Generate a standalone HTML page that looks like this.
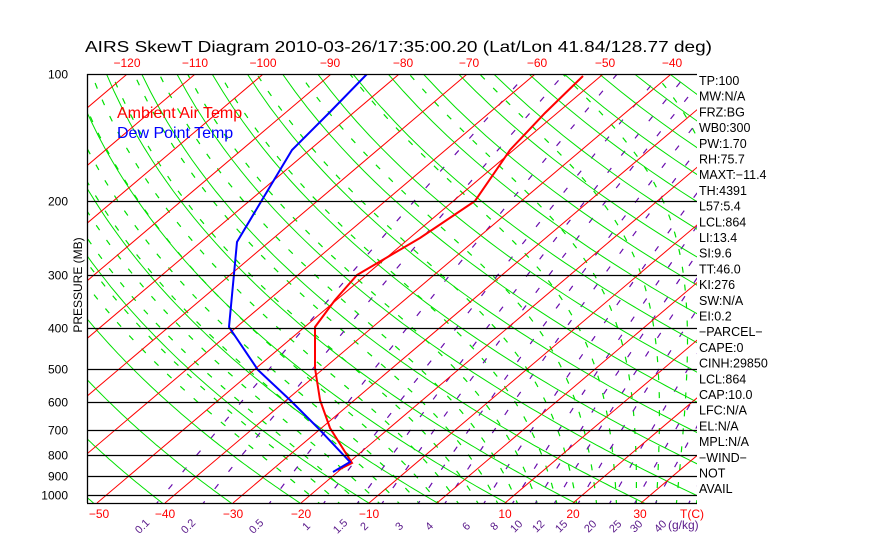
<!DOCTYPE html>
<html><head><meta charset="utf-8">
<style>
html,body{margin:0;padding:0;background:#fff;}
svg{display:block;font-family:"Liberation Sans",sans-serif;}
</style></head>
<body>
<svg id="s" width="870" height="560" xmlns="http://www.w3.org/2000/svg">
<defs><clipPath id="c"><rect x="87" y="74" width="610" height="429"/></clipPath></defs>
<rect width="870" height="560" fill="#fff"/>
<g id="grid" clip-path="url(#c)"></g>
<g id="prof" clip-path="url(#c)"></g>
<g id="txt"></g>
</svg>
<script>
var NS="http://www.w3.org/2000/svg";
function el(p,n,a,t){var e=document.createElementNS(NS,n);for(var k in a)e.setAttribute(k,a[k]);if(t!=null)e.textContent=t;p.appendChild(e);return e;}
var S=document.getElementById('s'),G=document.getElementById('grid'),P=document.getElementById('prof'),T=document.getElementById('txt');
function Y(p){return 74+183*Math.log(p/100);}
function X(t,y){return 437+6.8*t+(503-y)*1.18;}
function pl(g,pts,a){var d=pts.map(function(q,i){return (i?'L':'M')+q[0].toFixed(1)+' '+q[1].toFixed(1);}).join('');a.d=d;a.fill='none';el(g,'path',a);}
function es(tc){return 6.112*Math.exp(17.67*tc/(tc+243.5));}
function tdew(e){var l=Math.log(e/6.112);return 243.5*l/(17.67-l);}
function ma(tk,p){var tc=tk-273.15,e=es(tc),rs=0.622*e/(p-e),Rd=287,cp=1004,L=2.5e6;return (Rd*tk+L*rs)/(p*(cp+L*L*rs*0.622/(Rd*tk*tk)));}
// moist adiabats
for(var t0=-20;t0<=44;t0+=3){var tk=t0+273.15,pts=[];
 for(var pp=1000;pp<1060;pp+=2){tk+=2*ma(tk,pp);}
 for(var p=1060;p>=100;p-=2){var y=Y(p);if(p%10==0)pts.push([X(tk-273.15,y),y]);tk-=2*ma(tk,p);}
 pl(G,pts,{stroke:'#00e000','stroke-width':1.2,'stroke-dasharray':'6,12'});}
// mixing ratio
var ws=[0.1,0.2,0.5,1,1.5,2,3,4,6,8,10,12,15,20,25,30,40,50,60];
ws.forEach(function(w){var pts=[];for(var p=1060;p>=95;p-=10){var e=w*p/(622+w);var y=Y(p);pts.push([X(tdew(e),y),y]);}pl(G,pts,{stroke:'#6a0dad','stroke-width':1.2,'stroke-dasharray':'6,16'});});
// dry adiabats
for(var th=200;th<=520;th+=10){var pts=[];for(var p=1060;p>=95;p-=10){var tk=th*Math.pow(p/1000,0.286);var y=Y(p);pts.push([X(tk-273.15,y),y]);}pl(G,pts,{stroke:'#00e000','stroke-width':1});}
// isotherms
for(var t=-170;t<=50;t+=10){pl(G,[[X(t,503),503],[X(t,74),74]],{stroke:'#ff0000','stroke-width':1});}
// pressure lines
[100,200,300,400,500,600,700,800,900,1000].forEach(function(p){var y=Math.round(Y(p))+0.5;el(S,'line',{x1:87,x2:697,y1:y,y2:y,stroke:'#000','stroke-width':1.3});
 el(T,'text',{x:68,y:y+4,'font-size':12,'text-anchor':'end',fill:'#000'},p);});
el(S,'line',{x1:87.5,x2:87.5,y1:74,y2:503,stroke:'#000','stroke-width':1.3});
el(S,'line',{x1:87,x2:697,y1:503.5,y2:503.5,stroke:'#000','stroke-width':1.3});
// profiles
var tp=[[583,76],[545,113],[510,150],[475,201],[420,238],[357,275],[335,300],[315,327],[315,368],[320,400],[330,428],[352,463],[338,470]];
var dp=[[367,74],[330,112],[292,150],[262,200],[237,242],[229,327],[258,370],[290,400],[318,428],[350,462],[333,472]];
pl(P,tp,{stroke:'#ff0000','stroke-width':2});
pl(P,dp,{stroke:'#0000ff','stroke-width':2});
// text
el(T,'text',{x:85,y:52,'font-size':16,fill:'#000',textLength:627,lengthAdjust:'spacingAndGlyphs'},'AIRS SkewT Diagram 2010-03-26/17:35:00.20 (Lat/Lon 41.84/128.77 deg)');
[[-120,127],[-110,195],[-100,263],[-90,330],[-80,403],[-70,469],[-60,537],[-50,605],[-40,672]].forEach(function(a){el(T,'text',{x:a[1],y:67,'font-size':12,fill:'#ff0000','text-anchor':'middle'},'\u2212'+(-a[0]));});
[[-50,99],[-40,165],[-30,233],[-20,301],[-10,369],[10,505],[20,573],[30,640]].forEach(function(a){el(T,'text',{x:a[1],y:518,'font-size':12,fill:'#ff0000','text-anchor':'middle'},a[0]<0?'\u2212'+(-a[0]):a[0]);});
el(T,'text',{x:680,y:518,'font-size':12,fill:'#ff0000'},'T(C)');
el(T,'text',{x:668,y:529,'font-size':12,fill:'#5a1a8a'},'(g/kg)');
[['0.1',142],['0.2',188],['0.5',256],['1',306],['1.5',340],['2',364],['3',399],['4',429],['6',466],['8',494],['10',516],['12',538],['15',561],['20',590],['25',615],['30',636],['40',660]].forEach(function(a){el(T,'text',{x:a[1],y:530,'font-size':11,fill:'#5a1a8a','text-anchor':'middle',transform:'rotate(-45 '+a[1]+' 526)'},a[0]);});
el(T,'text',{x:117,y:118,'font-size':16,fill:'#ff0000'},'Ambient Air Temp');
el(T,'text',{x:117,y:138,'font-size':16,fill:'#0000ff'},'Dew Point Temp');
el(T,'text',{x:0,y:0,'font-size':12,fill:'#000','text-anchor':'middle',transform:'translate(82 285) rotate(-90)'},'PRESSURE (MB)');
var R=['TP:100','MW:N/A','FRZ:BG','WB0:300','PW:1.70','RH:75.7','MAXT:\u221211.4','TH:4391','L57:5.4','LCL:864','LI:13.4','SI:9.6','TT:46.0','KI:276','SW:N/A','EI:0.2','\u2212PARCEL\u2212','CAPE:0','CINH:29850','LCL:864','CAP:10.0','LFC:N/A','EL:N/A','MPL:N/A','\u2212WIND\u2212',' NOT',' AVAIL'];
R.forEach(function(s,i){el(T,'text',{x:699,y:85+i*15.7,'font-size':12.5,fill:'#000','xml:space':'preserve'},s);});
</script>
</body></html>
